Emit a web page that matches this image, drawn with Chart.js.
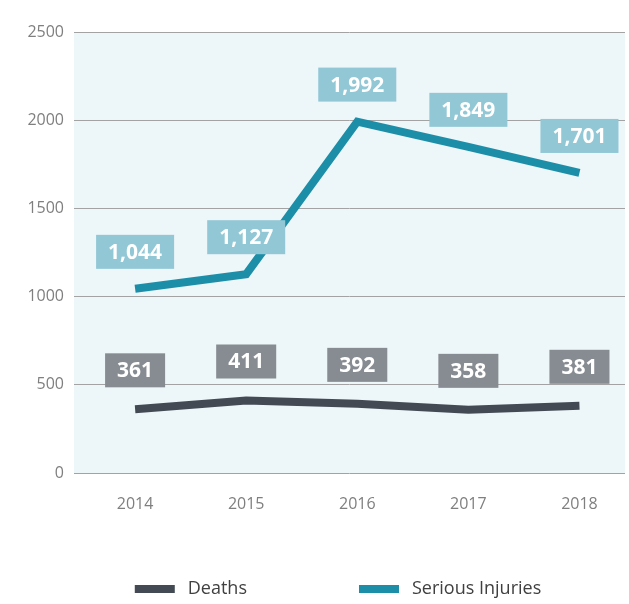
<!DOCTYPE html>
<html>
<head>
<meta charset="utf-8">
<script src="https://cdn.jsdelivr.net/npm/chart.js@4.4.1/dist/chart.umd.min.js"></script>
<style>
  html, body { margin: 0; padding: 0; background: #fff; }
  #wrapper { width: 629px; height: 604px; }
</style>
</head>
<body>
<div id="wrapper"><canvas id="roadChart"></canvas></div>
<script>
var years = [2014, 2015, 2016, 2017, 2018];
var deaths = [361, 411, 392, 358, 381];
var seriousInjuries = [1044, 1127, 1992, 1849, 1701];
var yTicks = [0, 500, 1000, 1500, 2000, 2500];
var seriesNames = ['Deaths', 'Serious Injuries'];

var FONT = '"Open Sans", "Noto Sans", sans-serif';

function points(values) {
  return values.map(function (v, i) { return { x: years[i], y: v }; });
}

function withCommas(v) {
  return String(v).replace(/\B(?=(\d{3})+(?!\d))/g, ',');
}

// light blue fill behind the plot
var plotBackground = {
  id: 'plotBackground',
  beforeDraw: function (chart) {
    var a = chart.chartArea;
    var ctx = chart.ctx;
    ctx.save();
    ctx.fillStyle = '#edf6f9';
    ctx.fillRect(a.left, a.top, a.right - a.left, a.bottom - a.top);
    ctx.restore();
  }
};

// boxed value above every point
var valueBoxes = {
  id: 'valueBoxes',
  afterDatasetsDraw: function (chart) {
    var ctx = chart.ctx;
    ctx.save();
    ctx.font = 'bold 21px ' + FONT;
    ctx.textAlign = 'center';
    ctx.textBaseline = 'middle';
    chart.data.datasets.forEach(function (ds, di) {
      var meta = chart.getDatasetMeta(di);
      meta.data.forEach(function (pt, i) {
        var text = withCommas(ds.data[i].y);
        var w = ctx.measureText(text).width + 24;
        var h = 34;
        var bottom = pt.y - ds.boxGap;
        ctx.fillStyle = ds.boxColor;
        ctx.fillRect(pt.x - w / 2, bottom - h, w, h);
        ctx.fillStyle = '#ffffff';
        ctx.fillText(text, pt.x, bottom - h / 2 + 1);
      });
    });
    ctx.restore();
  }
};

// legend along the bottom, wide gap between the items
var bottomLegend = {
  id: 'bottomLegend',
  afterDraw: function (chart) {
    var ctx = chart.ctx;
    ctx.save();
    ctx.font = '18px ' + FONT;
    ctx.textBaseline = 'middle';
    ctx.textAlign = 'left';
    var boxW = 40, boxH = 8, gap = 13, itemGap = 112;
    var items = chart.data.datasets.map(function (ds) {
      return { ds: ds, w: boxW + gap + ctx.measureText(ds.label).width };
    });
    var total = items.reduce(function (s, it) { return s + it.w; }, 0) + itemGap * (items.length - 1);
    var x = 338 - total / 2;
    var y = 589;
    items.forEach(function (it) {
      ctx.fillStyle = it.ds.borderColor;
      ctx.fillRect(x, y - boxH / 2, boxW, boxH);
      ctx.fillStyle = '#404040';
      ctx.fillText(it.ds.label, x + boxW + gap, y);
      x += it.w + itemGap;
    });
    ctx.restore();
  }
};

var ctx = document.getElementById('roadChart');
var roadChart = new Chart(ctx, {
  type: 'line',
  data: {
    datasets: [{
      label: seriesNames[0],
      data: points(deaths),
      borderColor: '#434a54',
      boxColor: '#878c92',
      boxGap: 22,
      borderWidth: 8,
      pointRadius: 0,
      tension: 0,
      borderJoinStyle: 'miter',
      borderCapStyle: 'butt'
    }, {
      label: seriesNames[1],
      data: points(seriousInjuries),
      borderColor: '#1d8ea8',
      boxColor: '#92c7d5',
      boxGap: 20,
      borderWidth: 8,
      pointRadius: 0,
      tension: 0,
      borderJoinStyle: 'miter',
      borderCapStyle: 'butt'
    }]
  },
  options: {
    responsive: true,
    maintainAspectRatio: false,
    animation: false,
    layout: { padding: { top: 32, right: 4, bottom: 81, left: 0 } },
    plugins: {
      legend: { display: false },
      tooltip: { enabled: false }
    },
    scales: {
      x: {
        type: 'linear',
        min: 2013.45,
        max: 2018.41,
        afterBuildTicks: function (scale) {
          scale.ticks = years.map(function (y) { return { value: y }; });
        },
        afterFit: function (scale) { scale.height = 50; },
        grid: { display: false },
        border: { display: false },
        ticks: {
          padding: 14,
          color: '#7f7f7f',
          font: { family: FONT, size: 16 },
          callback: function (v) { return String(v); }
        }
      },
      y: {
        min: yTicks[0],
        max: yTicks[yTicks.length - 1],
        afterBuildTicks: function (scale) {
          scale.ticks = yTicks.map(function (v) { return { value: v }; });
        },
        afterFit: function (scale) { scale.width = 74; },
        grid: { color: '#a3a3a3', lineWidth: 1, drawTicks: false },
        border: { display: false },
        ticks: {
          padding: 10,
          color: '#7f7f7f',
          font: { family: FONT, size: 16 },
          callback: function (v) { return String(v); }
        }
      }
    }
  },
  plugins: [plotBackground, valueBoxes, bottomLegend]
});
</script>
</body>
</html>
